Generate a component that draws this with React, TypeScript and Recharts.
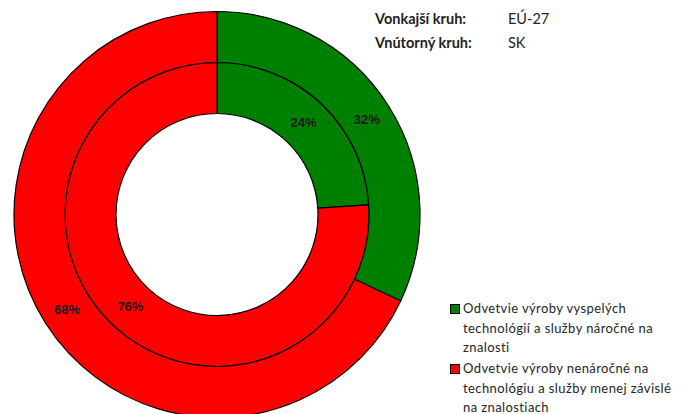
import React from 'react';
import { PieChart, Pie, Cell, Legend } from 'recharts';

const categories = [
  'Odvetvie výroby vyspelých technológií a služby náročné na znalosti',
  'Odvetvie výroby nenáročné na technológiu a služby menej závislé na znalostiach',
];
const outerValues = [32, 68]; // EÚ-27
const innerValues = [24, 76]; // SK
const colors = ['#008000', '#FF0000'];
const legendLines = [
  ['Odvetvie výroby vyspelých', 'technológií a služby náročné na', 'znalosti'],
  ['Odvetvie výroby nenáročné na', 'technológiu a služby menej závislé', 'na znalostiach'],
];
const headerRows = [
  ['Vonkajší kruh:', 'EÚ-27'],
  ['Vnútorný kruh:', 'SK'],
];

const outerData = categories.map((name, i) => ({ name, value: outerValues[i] }));
const innerData = categories.map((name, i) => ({ name, value: innerValues[i] }));

const RAD = Math.PI / 180;
const renderLabel = (p: any) => {
  const r = (p.innerRadius + p.outerRadius) / 2;
  const x = p.cx + r * Math.cos(-p.midAngle * RAD);
  const y = p.cy + r * Math.sin(-p.midAngle * RAD);
  return (
    <text
      x={x}
      y={y}
      textAnchor="middle"
      dominantBaseline="central"
      fill="#1a1a1a"
      fontFamily="'Liberation Sans Narrow', 'Liberation Sans', sans-serif"
      fontWeight="bold"
      fontSize={13}
    >
      {`${p.value}%`}
    </text>
  );
};

const LegendContent = () => (
  <div style={{ fontFamily: 'Lato, sans-serif', fontSize: 13, color: '#262626', lineHeight: '19.6px' }}>
    {legendLines.map((lines, i) => (
      <div key={i} style={{ position: 'relative', paddingLeft: 13, marginBottom: 1.5 }}>
        <span
          style={{
            position: 'absolute',
            left: 0,
            top: 5,
            width: 8,
            height: 8,
            background: colors[i],
            border: '1px solid #000',
          }}
        />
        {lines.map((l, j) => (
          <div key={j} style={{ letterSpacing: 0.4, whiteSpace: 'nowrap' }}>{l}</div>
        ))}
      </div>
    ))}
  </div>
);

export default function App() {
  return (
    <div style={{ position: 'absolute', left: 0, top: 0, width: 689, height: 414, background: '#fff', overflow: 'hidden' }}>
      <PieChart width={689} height={414} margin={{ top: 0, right: 0, bottom: 0, left: 0 }}>
        <Pie
          data={innerData}
          dataKey="value"
          cx={217}
          cy={214.5}
          innerRadius={101}
          outerRadius={152}
          startAngle={90}
          endAngle={-270}
          stroke="#000"
          strokeWidth={1.2}
          label={renderLabel}
          labelLine={false}
          isAnimationActive={false}
        >
          {innerData.map((d, i) => (
            <Cell key={d.name} fill={colors[i]} />
          ))}
        </Pie>
        <Pie
          data={outerData}
          dataKey="value"
          cx={217}
          cy={214.5}
          innerRadius={152}
          outerRadius={203}
          startAngle={90}
          endAngle={-270}
          stroke="#000"
          strokeWidth={1.2}
          label={renderLabel}
          labelLine={false}
          isAnimationActive={false}
        >
          {outerData.map((d, i) => (
            <Cell key={d.name} fill={colors[i]} />
          ))}
        </Pie>
        <Legend
          content={<LegendContent />}
          wrapperStyle={{ position: 'absolute', left: 450, top: 299, width: 239 }}
        />
      </PieChart>
      <div
        style={{
          position: 'absolute',
          left: 375,
          top: 7,
          fontFamily: 'Lato, sans-serif',
          fontSize: 14.5,
          color: '#222',
          lineHeight: '24px',
        }}
      >
        {headerRows.map((r, i) => (
          <div key={i} style={{ display: 'flex' }}>
            <span style={{ width: 133, fontWeight: 'bold' }}>{r[0]}</span>
            <span>{r[1]}</span>
          </div>
        ))}
      </div>
    </div>
  );
}
